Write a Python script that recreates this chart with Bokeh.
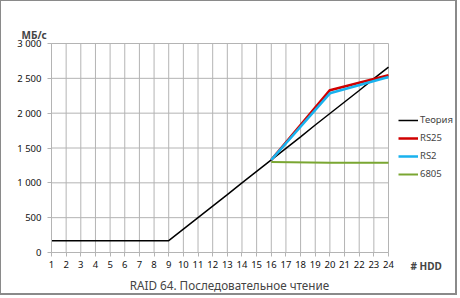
from bokeh.plotting import figure
from bokeh.models import Range1d, FixedTicker, Label, Legend, LegendItem
from bokeh.embed import file_html
from bokeh.resources import INLINE

hdd = list(range(1, 25))
theory = [170, 170, 170, 170, 170, 170, 170, 170, 170, 335, 500, 665, 830, 1000,
          1165, 1330, 1495, 1660, 1830, 1995, 2160, 2325, 2495, 2660]
rs_x = [16, 20, 24]
rs25 = [1330, 2330, 2545]
rs2 = [1330, 2285, 2520]
c6805 = [1300, 1290, 1290]
y_ticks = [0, 500, 1000, 1500, 2000, 2500, 3000]
y_labels = ["0", "500", "1 000", "1 500", "2 000", "2 500", "3 000"]
series_names = ["Теория", "RS25", "RS2", "6805"]

FONT = "Noto Sans"
GRID = "#b4b4b4"

W, H = 457, 295
# data area in canvas pixels
L, R, T, B = 50, 387, 42, 251
xpx = (R - L) / (hdd[-1] - hdd[0])
ypx = (B - T) / (y_ticks[-1] - y_ticks[0])
x_range = Range1d(hdd[0] - L / xpx, hdd[-1] + (W - R) / xpx)
y_range = Range1d(y_ticks[0] - (H - B) / ypx, y_ticks[-1] + T / ypx)

p = figure(width=W, height=H, output_backend="svg", toolbar_location=None,
           x_range=x_range, y_range=y_range,
           min_border_left=0, min_border_right=0, min_border_top=0, min_border_bottom=0)
p.title.visible = False
p.styles = {"border-left": "1px solid #8a8a8a", "border-top": "1px solid #8a8a8a",
            "border-right": "2px solid #8a8a8a", "border-bottom": "2px solid #8a8a8a"}
p.outline_line_color = None
p.background_fill_color = "white"
p.border_fill_color = "white"
p.xgrid.visible = False
p.ygrid.visible = False

# grid lines limited to the data area
p.segment(x0=hdd, x1=hdd, y0=y_ticks[0], y1=y_ticks[-1], line_color=GRID, line_width=1)
p.segment(x0=hdd[0], x1=hdd[-1], y0=y_ticks, y1=y_ticks, line_color=GRID, line_width=1)

p.xaxis.fixed_location = y_ticks[0]
p.yaxis.fixed_location = hdd[0]
p.xaxis.bounds = (hdd[0], hdd[-1])
p.yaxis.bounds = (y_ticks[0], y_ticks[-1])
p.xaxis.ticker = FixedTicker(ticks=hdd)
p.yaxis.ticker = FixedTicker(ticks=y_ticks)
p.yaxis.major_label_overrides = {t: l for t, l in zip(y_ticks, y_labels)}
for ax in (p.xaxis, p.yaxis):
    ax.axis_line_color = GRID
    ax.major_tick_line_color = GRID
    ax.major_tick_out = 4
    ax.major_tick_in = 0
    ax.minor_tick_line_color = None
    ax.major_label_text_font = FONT
    ax.major_label_text_font_size = "9.5px"
    ax.major_label_text_color = "#111111"
p.xaxis.major_label_standoff = 4
p.yaxis.major_label_standoff = 6

r_th = p.line(hdd, theory, line_color="black", line_width=1.5)
r_25 = p.line(rs_x, rs25, line_color="#d00000", line_width=2.5)
r_2 = p.line(rs_x, rs2, line_color="#19b2ee", line_width=2.5)
r_68 = p.line(rs_x, c6805, line_color="#7aa632", line_width=2)

legend = Legend(items=[LegendItem(label=n, renderers=[r]) for n, r in
                       zip(series_names, [r_th, r_25, r_2, r_68])],
                location=(397, 116), padding=0, margin=0, spacing=5,
                glyph_width=20, glyph_height=12, label_height=12, label_standoff=2,
                label_text_font=FONT, label_text_font_size="9.5px",
                border_line_color=None, background_fill_alpha=0)
p.add_layout(legend, "center")

p.add_layout(Label(x=20, y=262, x_units="screen", y_units="screen", text="МБ/с",
                   text_font=FONT, text_font_size="10px", text_font_style="bold",
                   text_baseline="middle"))
p.add_layout(Label(x=409, y=31, x_units="screen", y_units="screen", text="# HDD",
                   text_font=FONT, text_font_size="10px", text_font_style="bold",
                   text_baseline="middle"))
p.add_layout(Label(x=228, y=12, x_units="screen", y_units="screen",
                   text="RAID 64. Последовательное чтение",
                   text_font=FONT, text_font_size="11.7px", text_align="center",
                   text_baseline="middle"))

open("out.html", "w").write(file_html(p, INLINE))
